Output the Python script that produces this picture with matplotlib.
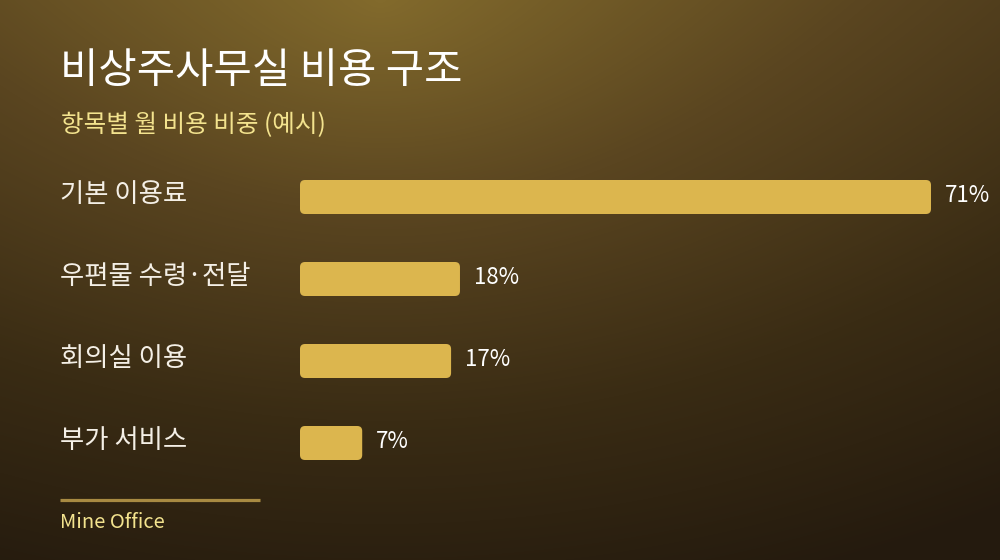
import numpy as np
import matplotlib.pyplot as plt
from matplotlib.patches import FancyBboxPatch
import matplotlib.transforms as mtransforms
from matplotlib.colors import LinearSegmentedColormap

plt.rcParams['font.family'] = ['Noto Sans CJK KR', 'DejaVu Sans']

categories = ['기본 이용료', '우편물 수령·전달', '회의실 이용', '부가 서비스']
shares = [71, 18, 17, 7]
value_labels = ['71%', '18%', '17%', '7%']

title = '비상주사무실 비용 구조'
subtitle = '항목별 월 비용 비중 (예시)'
source = 'Mine Office'

W, H = 1000, 560
fig = plt.figure(figsize=(W / 100, H / 100), dpi=100)

# background gradient (light gold at top centre -> dark brown)
bg = fig.add_axes([0, 0, 1, 1])
bg.set_axis_off()
yy, xx = np.mgrid[0:H, 0:W]
r = np.sqrt(((xx - 380) / 1.15) ** 2 + (yy - 0) ** 2) / 700.0
t = np.clip(0.55 * r + 0.45 * yy / H, 0, 1)
cmap = LinearSegmentedColormap.from_list('bg', ['#826a2c', '#5a4520', '#3a2c14', '#241a0e'])
bg.imshow(t, cmap=cmap, vmin=0, vmax=1, extent=[0, 1, 0, 1], aspect='auto',
          origin='upper', interpolation='bilinear')
bg.set_xlim(0, 1)
bg.set_ylim(0, 1)

# bar axes: x 300..931 px for 0..71, rows centred at 197,279,361,443 px
ax = fig.add_axes([0.30, 1 - 484 / H, 0.631, 328 / H])
ax.set_xlim(0, 71)
ax.set_ylim(3.5, -0.5)
ax.set_axis_off()

px_x = 631 / 71
px_y = 82
bar_h = 34 / px_y
rad = 5 / px_x
for i, v in enumerate(shares):
    p = FancyBboxPatch((0, i - bar_h / 2), v, bar_h,
                       boxstyle=f'round,pad=0,rounding_size={rad}',
                       mutation_aspect=px_x / px_y,
                       facecolor='#dcb64e', edgecolor='none')
    ax.add_patch(p)
    ax.text(v + 14 / px_x, i - 0.02, value_labels[i], color='white', fontsize=16,
            va='center', ha='left')

trans = mtransforms.blended_transform_factory(fig.transFigure, ax.transData)
for i, c in enumerate(categories):
    ax.text(60 / W, i - 0.03, c, transform=trans, color='#f4efe6', fontsize=19,
            va='center', ha='left')

fig.text(60 / W, 1 - 72 / H, title, color='white', fontsize=30, va='center', ha='left')
fig.text(61 / W, 1 - 125 / H, subtitle, color='#f3e38e', fontsize=17.7, va='center', ha='left')

bg.plot([60 / W, 260 / W], [1 - 500 / H, 1 - 500 / H], color='#a88a42', lw=2.3,
        solid_capstyle='butt')
fig.text(60 / W, 1 - 522 / H, source, color='#f3e38e', fontsize=14.5, va='center', ha='left')

fig.savefig('out.png', dpi=100)
